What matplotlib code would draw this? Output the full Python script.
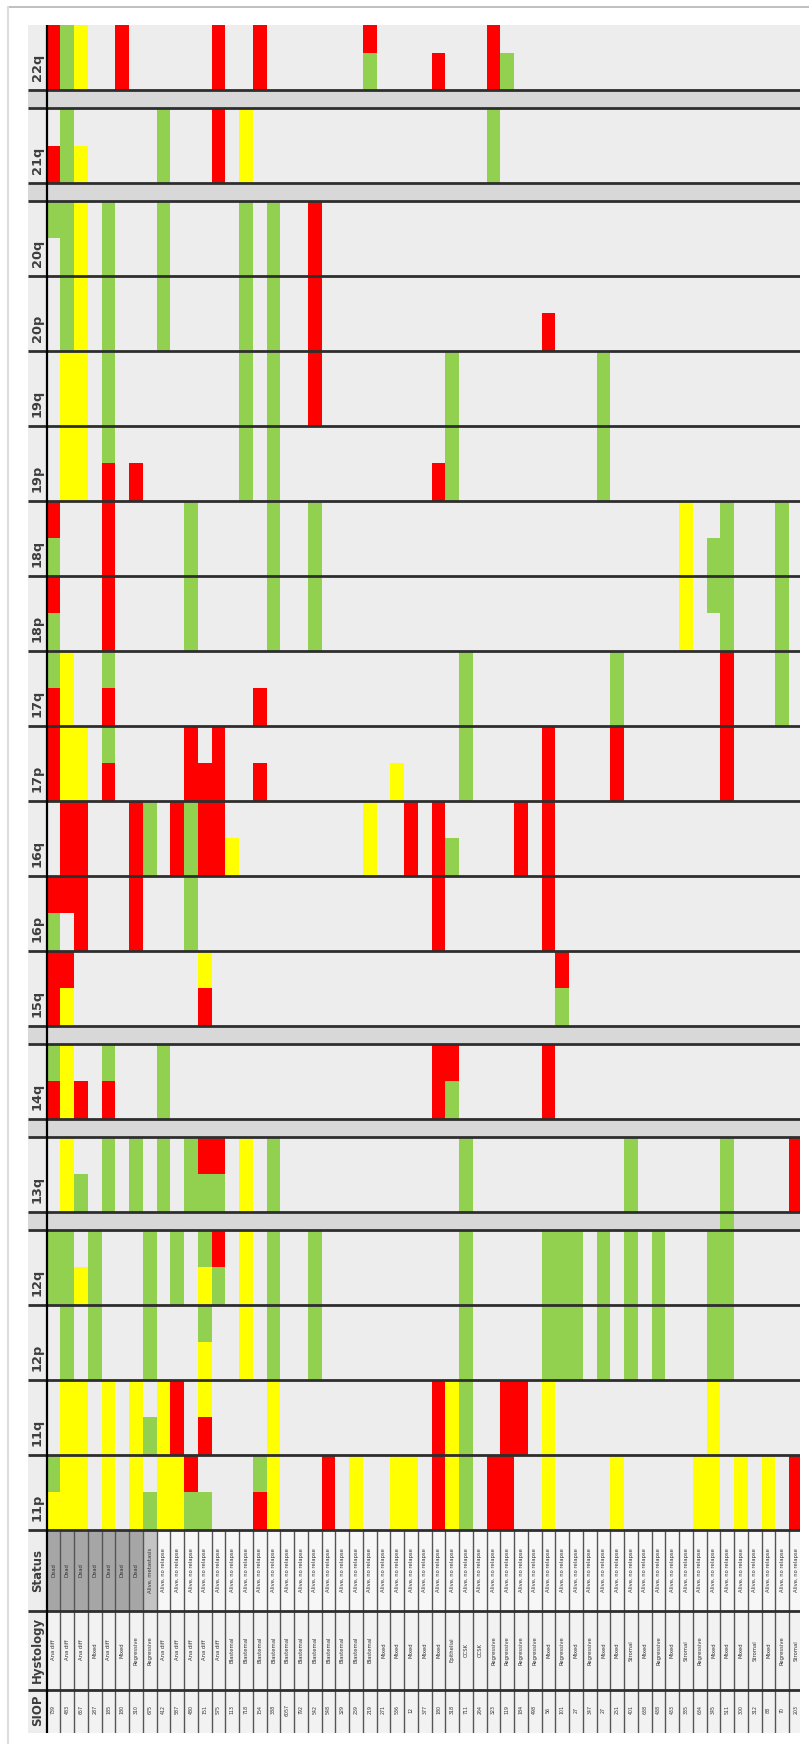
import matplotlib
matplotlib.use('Agg')
import matplotlib.pyplot as plt
from matplotlib.patches import Rectangle

# chromosome arms, top to bottom
arms = ['22q', '21q', '20q', '20p', '19q', '19p', '18q', '18p', '17q', '17p',
        '16q', '16p', '15q', '14q', '13q', '12q', '12p', '11q', '11p']
gap_after = ['22q', '21q', '15q', '14q', '13q']

# calls per arm, upper and lower half of each band: colour letter + sample column
calls_top = [
    'R0 G1 Y2 R5 R12 R15 R23 R32',
    'G1 G8 R12 Y14 G32',
    'G0 G1 Y2 G4 G8 G14 G16 R19',
    'G1 Y2 G4 G8 G14 G16 R19',
    'Y1 Y2 G4 G14 G16 R19 G29 G40',
    'Y1 Y2 G4 G14 G16 G29 G40',
    'R0 R4 G10 G16 G19 Y46 G49 G53',
    'R0 R4 G10 G16 G19 Y46 G48 G49 G53',
    'G0 Y1 G4 G30 G41 R49 G53',
    'R0 Y1 Y2 G4 R10 R12 G30 R36 R41 R49',
    'R1 R2 R6 G7 R9 G10 R11 R12 Y23 R26 R28 R34 R36',
    'R0 R1 R2 R6 G10 R28 R36',
    'R0 R1 Y11 R37',
    'G0 Y1 G4 G8 R28 R29 R36',
    'Y1 G4 G6 G8 G10 R11 R12 Y14 G16 G30 G42 G49 R54',
    'G0 G1 G3 G7 G9 G11 R12 Y14 G16 G19 G30 G36 G37 G38 G40 G42 G44 G48 G49',
    'G1 G3 G7 G11 Y14 G16 G19 G30 G36 G37 G38 G40 G42 G44 G48 G49',
    'Y1 Y2 Y4 Y6 Y8 R9 Y11 Y16 R28 Y29 G30 R33 R34 Y36 Y48',
    'G0 Y1 Y2 Y4 Y6 Y8 Y9 R10 G15 Y16 R20 Y22 Y25 Y26 R28 Y29 G30 R32 R33 Y36 '
    'Y41 Y47 Y48 Y50 Y52 R54',
]
calls_bottom = [
    'R0 G1 Y2 R5 R12 R15 G23 R28 R32 G33',
    'R0 G1 Y2 G8 R12 Y14 G32',
    'G1 Y2 G4 G8 G14 G16 R19',
    'G1 Y2 G4 G8 G14 G16 R19 R36',
    'Y1 Y2 G4 G14 G16 R19 G29 G40',
    'Y1 Y2 R4 R6 G14 G16 R28 G29 G40',
    'G0 R4 G10 G16 G19 Y46 G48 G49 G53',
    'G0 R4 G10 G16 G19 Y46 G49 G53',
    'R0 Y1 R4 R15 G30 G41 R49 G53',
    'R0 Y1 Y2 R4 R10 R11 R12 R15 Y25 G30 R36 R41 R49',
    'R1 R2 R6 G7 R9 G10 R11 R12 Y13 Y23 R26 R28 G29 R34 R36',
    'G0 R2 R6 G10 R28 R36',
    'R0 Y1 R11 G37',
    'R0 Y1 R2 R4 G8 R28 G29 R36',
    'Y1 G2 G4 G6 G8 G10 G11 G12 Y14 G16 G30 G42 G49 R54',
    'G0 G1 Y2 G3 G7 G9 Y11 G12 Y14 G16 G19 G30 G36 G37 G38 G40 G42 G44 G48 G49',
    'G1 G3 G7 Y11 Y14 G16 G19 G30 G36 G37 G38 G40 G42 G44 G48 G49',
    'Y1 Y2 Y4 Y6 G7 Y8 R9 R11 Y16 R28 Y29 G30 R33 R34 Y36 Y48',
    'Y0 Y1 Y2 Y4 Y6 G7 Y8 Y9 G10 G11 R15 Y16 R20 Y22 Y25 Y26 R28 Y29 G30 R32 R33 '
    'Y36 Y41 Y47 Y48 Y50 Y52 R54',
]
# a call that runs across the grey spacer below 13q
gap_calls = {'13q': 'G49'}

n_samples = 55
status = ['Dead'] * 7 + ['Alive, metastasis'] + ['Alive, no relapse'] * 47
histology = (['Ana diff'] * 3 + ['Mixed', 'Ana diff', 'Mixed', 'Regressive', 'Regressive']
             + ['Ana diff'] * 5 + ['Blastemal'] * 11 + ['Mixed'] * 5
             + ['Epithelial', 'CCSK', 'CCSK', 'Regressive', 'Regressive', 'Regressive',
                'Regressive', 'Mixed', 'Regressive', 'Mixed', 'Regressive', 'Mixed',
                'Mixed', 'Stromal', 'Mixed', 'Regressive', 'Mixed', 'Stromal',
                'Regressive', 'Mixed', 'Mixed', 'Mixed', 'Stromal', 'Mixed',
                'Regressive', 'Stromal'])
siop = ['739', '483', '657', '287', '185', '180', '310', '675', '412', '587', '480',
        '151', '575', '113', '718', '154', '388', '6057', '792', '542', '548', '329',
        '259', '219', '271', '536', '12', '377', '180', '318', '711', '264', '323',
        '119', '184', '498', '56', '101', '27', '347', '27', '251', '401', '638',
        '438', '433', '335', '634', '345', '511', '300', '312', '88', '70', '203']

colors = {'R': '#ff0000', 'Y': '#ffff00', 'G': '#92d050'}

fig = plt.figure(figsize=(8.09, 17.48), dpi=100)
# card border of the original screenshot
fig.add_artist(plt.Line2D([8 / 809, 1], [1 - 7 / 1748] * 2, color='#b4b4b4', lw=1.2))
fig.add_artist(plt.Line2D([8 / 809] * 2, [0.003, 1 - 7 / 1748], color='#dddddd', lw=1.5))

ax = fig.add_axes([28 / 809, 1 - 1733 / 1748, 772 / 809, 1708 / 1748])
label_w = 1.36
x_right = 54.79
y_cut = 22.91
ax.set_xlim(-label_w, x_right)
ax.axis('off')

gap_h = 0.24
band_bg = '#ededed'
line_c = '#2e2e2e'

y = 0.0
boundaries = []
for i, arm in enumerate(arms):
    ax.add_patch(Rectangle((-label_w, y), label_w + x_right, 1, color=band_bg, lw=0, zorder=0))
    for half, calls in enumerate([calls_top[i], calls_bottom[i]]):
        for tok in calls.split():
            c = int(tok[1:])
            ax.add_patch(Rectangle((c, y + 0.5 * half), 1, 0.5, color=colors[tok[0]],
                                   lw=0, zorder=1))
    ax.text(-label_w / 2, y + 0.7, arm, rotation=90, ha='center', va='center',
            fontsize=9.3, fontweight='bold', color='#3c3c3c')
    y += 1
    boundaries.append(y)
    if arm in gap_after:
        ax.add_patch(Rectangle((-label_w, y), label_w + x_right, gap_h, color='#d8d8d8',
                               lw=0, zorder=0))
        for tok in gap_calls.get(arm, '').split():
            ax.add_patch(Rectangle((int(tok[1:]), y), 1, gap_h, color=colors[tok[0]],
                                   lw=0, zorder=1))
        y += gap_h
        boundaries.append(y)

# sample annotation rows
info_rows = [('Status', 1.08), ('Hystology', 1.05), ('SIOP', y_cut - y - 2.13)]
info_top = y
texts = [status, histology, siop]
for (name, h), vals in zip(info_rows, texts):
    ax.add_patch(Rectangle((-label_w, y), label_w, h, color=band_bg, lw=0, zorder=0))
    ty = y + h / 2 if name != 'SIOP' else y + 0.27
    for c in range(n_samples):
        if name == 'Status':
            fc = '#a6a6a6' if vals[c] == 'Dead' else ('#c4c4c4' if 'meta' in vals[c] else '#f7f7f7')
        else:
            fc = '#f2f2f2'
        ax.add_patch(Rectangle((c, y), 1, h, color=fc, lw=0, zorder=0))
        ax.text(c + 0.5, ty, vals[c], rotation=90, ha='center', va='center',
                fontsize=3.8 if name != 'SIOP' else 3.4, color='#333333')
    ax.text(-label_w / 2, ty, name, rotation=90, ha='center', va='center',
            fontsize=8.5, fontweight='bold', color='#3c3c3c')
    y += h
    if name != 'SIOP':
        boundaries.append(y)

ax.set_ylim(y_cut, 0.133)

for b in boundaries:
    ax.plot([-label_w, x_right], [b, b], color=line_c, lw=2.0, zorder=3, solid_capstyle='butt')
for c in range(1, n_samples):
    ax.plot([c, c], [info_top, y], color='#555555', lw=1.0, zorder=2)
ax.plot([0, 0], [0.133, y], color='black', lw=1.6, zorder=4)

fig.savefig('out.png', dpi=100, facecolor='white')
